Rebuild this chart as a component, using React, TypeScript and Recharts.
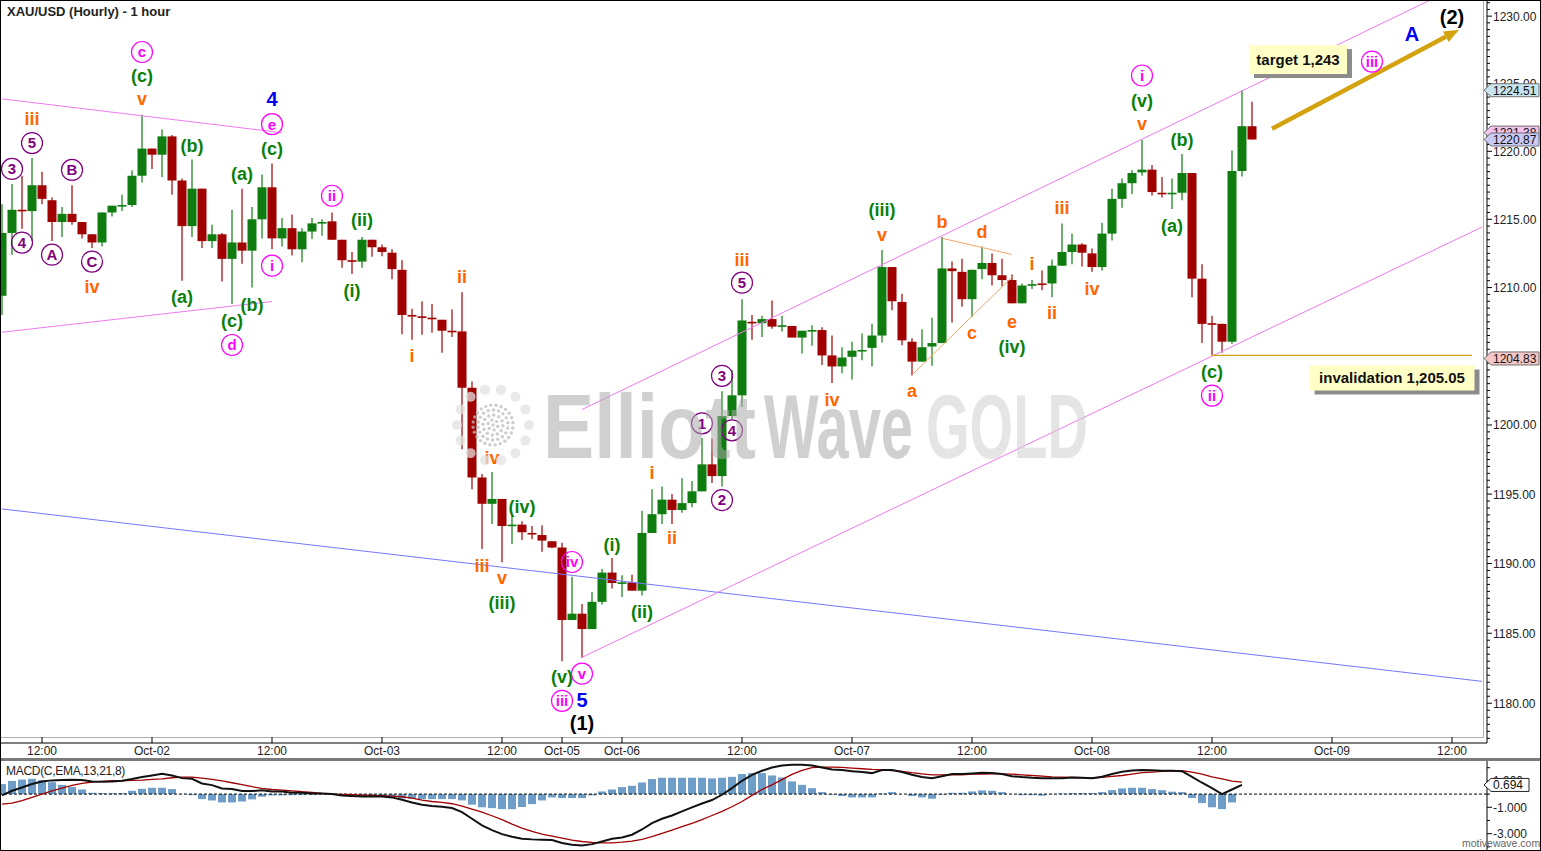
import React from "react";
import { ComposedChart, Bar, Line, XAxis, YAxis, ReferenceLine, ReferenceDot } from "recharts";

const FONT = "'Liberation Sans', Arial, Helvetica, sans-serif";
const UP = "#0e7c0e";
const DOWN = "#a00000";
const GOLD = "#d4a20f";
const SLOTS = 149;

// hourly candles, Oct 01 - Oct 08
const opens = [
  1209.4, 1214.0, 1215.7, 1215.6, 1217.5, 1216.4, 1214.8, 1215.4, 1214.8, 1213.9,
  1213.3, 1215.5, 1216.0, 1216.05, 1218.2, 1220.2, 1219.75, 1221.1, 1217.85, 1214.5,
  1217.25, 1213.4, 1213.9, 1212.1, 1213.3, 1212.7, 1215.0, 1217.35, 1213.6, 1214.35,
  1212.8, 1214.1, 1214.7, 1214.85, 1213.5, 1212.0, 1211.9, 1213.5, 1212.95, 1212.55,
  1211.3, 1208.0, 1207.9, 1207.8, 1207.65, 1206.85, 1206.8, 1202.7, 1196.2, 1194.3,
  1194.65, 1192.75, 1192.8, 1192.2, 1192.05, 1191.6, 1191.15, 1185.95, 1186.4, 1185.3,
  1187.25, 1189.35, 1188.6, 1188.65, 1188.05, 1192.2, 1193.55, 1194.6, 1193.85, 1194.35,
  1195.2, 1197.15, 1196.3, 1200.65, 1202.15, 1207.5, 1207.4, 1207.7, 1207.2, 1207.2,
  1206.35, 1206.85, 1206.9, 1205.05, 1204.25, 1204.95, 1205.4, 1205.6, 1206.5, 1211.5,
  1208.95, 1206.05, 1204.6, 1205.7, 1205.95, 1211.4, 1211.15, 1209.15, 1211.35, 1211.8,
  1210.9, 1210.55, 1208.85, 1210.2, 1210.3, 1210.3, 1211.6, 1212.6, 1213.15, 1212.5,
  1211.5, 1213.95, 1216.5, 1217.65, 1218.45, 1218.65, 1216.95, 1216.9, 1216.95, 1218.4,
  1210.65, 1207.4, 1207.35, 1206.05, 1218.55, 1221.85,
];
const highs = [
  1216.1, 1217.6, 1218.2, 1219.5, 1218.5, 1216.6, 1215.9, 1217.5, 1214.8, 1213.9,
  1215.5, 1216.0, 1216.8, 1218.6, 1222.7, 1220.2, 1221.6, 1221.2, 1218.0, 1219.4,
  1217.25, 1214.6, 1214.0, 1215.7, 1217.25, 1215.9, 1218.3, 1219.1, 1215.1, 1215.35,
  1214.35, 1215.1, 1215.0, 1215.5, 1213.5, 1212.6, 1213.7, 1213.5, 1213.15, 1212.8,
  1212.0, 1208.45, 1209.0, 1208.8, 1207.65, 1208.4, 1209.65, 1203.15, 1196.45, 1196.6,
  1194.65, 1193.45, 1193.05, 1192.7, 1192.75, 1191.6, 1191.5, 1189.05, 1187.1, 1187.95,
  1189.6, 1190.4, 1189.15, 1189.2, 1193.8, 1195.35, 1195.55, 1195.0, 1196.15, 1195.95,
  1199.05, 1199.0, 1202.45, 1204.0, 1209.15, 1208.0, 1207.95, 1209.05, 1207.95, 1207.2,
  1206.85, 1207.25, 1207.1, 1206.5, 1205.65, 1206.05, 1206.65, 1207.35, 1212.75, 1211.5,
  1209.55, 1206.3, 1206.95, 1207.8, 1213.7, 1211.9, 1212.1, 1211.3, 1213.0, 1212.5,
  1212.1, 1210.95, 1210.3, 1210.55, 1211.25, 1212.05, 1214.7, 1213.95, 1213.25, 1212.85,
  1214.75, 1217.25, 1218.0, 1218.6, 1220.85, 1219.0, 1218.1, 1218.0, 1219.8, 1218.4,
  1211.7, 1207.95, 1207.35, 1220.05, 1224.51, 1223.65,
];
const lows = [
  1208.0, 1212.4, 1214.3, 1213.4, 1216.1, 1213.4, 1213.7, 1214.6, 1213.6, 1212.9,
  1213.0, 1215.2, 1215.6, 1215.9, 1217.7, 1218.7, 1218.1, 1216.8, 1210.5, 1213.7,
  1212.9, 1212.9, 1210.45, 1208.8, 1211.75, 1210.0, 1213.6, 1212.8, 1213.0, 1212.35,
  1211.85, 1213.55, 1213.8, 1213.5, 1211.45, 1211.0, 1211.45, 1212.25, 1212.3, 1210.6,
  1206.6, 1206.2, 1206.55, 1206.7, 1205.25, 1206.4, 1198.25, 1195.35, 1191.05, 1192.85,
  1190.1, 1191.4, 1191.7, 1191.75, 1190.85, 1191.1, 1183.0, 1185.95, 1183.25, 1185.3,
  1187.05, 1188.2, 1187.6, 1188.05, 1187.7, 1192.2, 1192.85, 1192.85, 1193.65, 1194.05,
  1195.2, 1195.8, 1195.55, 1200.4, 1201.3, 1206.2, 1206.4, 1207.0, 1206.8, 1206.35,
  1205.2, 1205.75, 1204.35, 1203.05, 1203.75, 1203.3, 1204.7, 1204.25, 1206.0, 1208.35,
  1205.8, 1203.6, 1204.6, 1204.3, 1205.95, 1207.45, 1208.6, 1207.85, 1210.6, 1210.15,
  1210.1, 1208.85, 1208.85, 1209.9, 1209.8, 1209.3, 1211.6, 1211.7, 1211.55, 1211.15,
  1211.25, 1213.45, 1215.85, 1216.85, 1218.2, 1216.75, 1216.6, 1215.75, 1216.4, 1209.3,
  1205.95, 1205.05, 1205.25, 1205.9, 1218.15, 1220.87,
];
const closes = [
  1214.0, 1215.7, 1215.6, 1217.5, 1216.5, 1214.8, 1215.4, 1214.8, 1213.9, 1213.3,
  1215.5, 1216.0, 1216.05, 1218.2, 1220.2, 1219.75, 1221.1, 1217.85, 1214.5, 1217.25,
  1213.4, 1213.9, 1212.1, 1213.3, 1212.7, 1215.0, 1217.35, 1213.6, 1214.35, 1212.8,
  1214.1, 1214.7, 1214.8, 1213.5, 1212.0, 1211.95, 1213.5, 1212.95, 1212.6, 1211.35,
  1208.0, 1207.95, 1207.85, 1207.7, 1206.85, 1206.8, 1202.7, 1196.2, 1194.3, 1194.65,
  1192.7, 1192.8, 1192.25, 1192.15, 1191.65, 1191.15, 1185.95, 1186.4, 1185.3, 1187.25,
  1189.35, 1188.6, 1188.65, 1188.05, 1192.2, 1193.55, 1194.6, 1193.85, 1194.35, 1195.2,
  1197.15, 1196.3, 1200.65, 1202.15, 1207.6, 1207.45, 1207.7, 1207.15, 1207.25, 1206.35,
  1206.85, 1206.9, 1205.05, 1204.25, 1204.9, 1205.4, 1205.45, 1206.5, 1211.5, 1209.0,
  1206.15, 1204.6, 1205.65, 1205.95, 1211.4, 1211.2, 1209.15, 1211.3, 1211.8, 1210.9,
  1210.55, 1208.85, 1210.15, 1210.25, 1210.25, 1211.6, 1212.6, 1213.15, 1212.55, 1211.5,
  1213.95, 1216.5, 1217.65, 1218.4, 1218.65, 1217.0, 1216.9, 1216.95, 1218.4, 1210.65,
  1207.35, 1207.35, 1206.05, 1218.55, 1221.85, 1220.87,
];

// MACD(C,EMA,13,21,8)
const macdLine = [
  -0.1, 0.25, 0.5, 0.76, 0.96, 1.04, 1.06, 1.09, 1.06, 0.96,
  0.93, 0.96, 1.01, 1.14, 1.29, 1.41, 1.54, 1.41, 1.21, 1.16,
  0.81, 0.68, 0.43, 0.38, 0.23, 0.23, 0.3, 0.2, 0.2, 0.1,
  0.1, 0.05, 0.05, 0, -0.1, -0.15, -0.18, -0.18, -0.18, -0.25,
  -0.43, -0.63, -0.8, -0.91, -0.96, -1.06, -1.36, -1.87, -2.37, -2.73,
  -3.03, -3.23, -3.38, -3.43, -3.46, -3.48, -3.71, -3.84, -3.89, -3.79,
  -3.59, -3.38, -3.28, -3.08, -2.68, -2.2, -1.87, -1.62, -1.31, -1.01,
  -0.71, -0.45, -0.05, 0.45, 1.01, 1.46, 1.77, 2.02, 2.17, 2.22,
  2.22, 2.17, 2.02, 1.87, 1.82, 1.74, 1.67, 1.59, 1.82, 1.82,
  1.67, 1.46, 1.29, 1.21, 1.36, 1.52, 1.52, 1.57, 1.62, 1.6,
  1.52, 1.36, 1.29, 1.24, 1.21, 1.21, 1.21, 1.26, 1.24, 1.21,
  1.31, 1.52, 1.69, 1.79, 1.82, 1.8, 1.77, 1.77, 1.74, 1.31,
  0.86, 0.45, 0, 0.35, 0.694,
];
const signalLine = [
  -0.76, -0.68, -0.5, -0.25, 0, 0.25, 0.45, 0.66, 0.81, 0.91,
  0.96, 1.01, 1.01, 1.04, 1.06, 1.11, 1.16, 1.24, 1.29, 1.29,
  1.21, 1.11, 1.01, 0.86, 0.71, 0.56, 0.43, 0.35, 0.3, 0.25,
  0.18, 0.13, 0.05, 0, -0.02, -0.05, -0.07, -0.1, -0.12, -0.15,
  -0.2, -0.3, -0.45, -0.56, -0.63, -0.73, -0.91, -1.14, -1.36, -1.64,
  -1.94, -2.27, -2.58, -2.83, -3.03, -3.18, -3.33, -3.48, -3.59, -3.66,
  -3.69, -3.69, -3.64, -3.56, -3.43, -3.23, -2.98, -2.73, -2.47, -2.22,
  -1.94, -1.62, -1.31, -0.96, -0.56, -0.1, 0.35, 0.7, 1.1, 1.5,
  1.8, 2.0, 2.05, 2.05, 2.02, 1.97, 1.92, 1.87, 1.84, 1.79,
  1.72, 1.62, 1.54, 1.46, 1.46, 1.46, 1.46, 1.52, 1.52, 1.54,
  1.54, 1.52, 1.46, 1.41, 1.36, 1.31, 1.29, 1.26, 1.24, 1.21,
  1.26, 1.34, 1.41, 1.52, 1.62, 1.67, 1.72, 1.74, 1.77, 1.67,
  1.52, 1.31, 1.16, 0.98, 0.91,
];
const macdHist = [
  0.76, 1.0, 1.1, 1.16, 1.06, 0.9, 0.7, 0.53, 0.35, 0.1,
  0.08, 0.08, 0.08, 0.25, 0.4, 0.48, 0.48, 0.38, 0.02, -0.08,
  -0.38, -0.48, -0.63, -0.63, -0.56, -0.4, -0.2, -0.1, -0.1, -0.08,
  -0.08, -0.03, 0.02, 0.02, -0.1, -0.18, -0.18, -0.18, -0.18, -0.23,
  -0.33, -0.35, -0.38, -0.38, -0.38, -0.38, -0.48, -0.8, -1.0, -1.06,
  -1.14, -1.14, -0.98, -0.76, -0.48, -0.25, -0.3, -0.3, -0.3, -0.1,
  0.2, 0.35, 0.53, 0.63, 0.88, 1.14, 1.24, 1.24, 1.24, 1.24,
  1.24, 1.19, 1.24, 1.31, 1.52, 1.59, 1.59, 1.41, 1.26, 0.96,
  0.7, 0.45, 0.15, -0.05, -0.15, -0.25, -0.25, -0.25, 0.05, 0.15,
  0, -0.15, -0.25, -0.35, -0.05, 0.1, 0.1, 0.2, 0.28, 0.25,
  0.15, 0, -0.08, -0.08, -0.12, 0.02, 0.05, 0.08, 0.08, 0.08,
  0.15, 0.3, 0.43, 0.48, 0.48, 0.38, 0.3, 0.18, 0.15, -0.3,
  -0.68, -1.0, -1.14, -0.63,
];

// time axis: [slot, label]
const timeTicks: [number, string][] = [
  [4, "12:00"], [15, "Oct-02"], [27, "12:00"], [38, "Oct-03"], [50, "12:00"],
  [56, "Oct-05"], [62, "Oct-06"], [74, "12:00"], [85, "Oct-07"], [97, "12:00"],
  [109, "Oct-08"], [121, "12:00"], [133, "Oct-09"], [145, "12:00"],
];
const priceLabels = [1180, 1185, 1190, 1195, 1200, 1205, 1210, 1215, 1220, 1225, 1230];
const priceTags = [
  { value: 1221.38, fill: "#f3c4ec" },
  { value: 1220.87, fill: "#cacaf6" },
  { value: 1224.51, fill: "#c8e4ef" },
  { value: 1204.83, fill: "#f4c6c6" },
];
const macdLabels = [1, -1, -3];
const macdTag = 0.694;

// wave labels: [slot, price, text]
const orangeLabels: [number, number, string][] = [
  [14, 1223.86, "v"], [3, 1222.44, "iii"], [9, 1210.07, "iv"], [46, 1210.8, "ii"],
  [41, 1205.01, "i"], [49, 1197.67, "iv"], [48, 1189.89, "iii"], [50, 1189.03, "v"],
  [65, 1196.59, "i"], [67, 1191.84, "ii"], [74, 1212.04, "iii"], [83, 1201.84, "iv"],
  [88, 1213.87, "v"], [94, 1214.82, "b"], [91, 1202.49, "a"], [98, 1214.09, "d"],
  [97, 1206.7, "c"], [101, 1207.5, "e"], [103, 1211.75, "i"], [105, 1208.16, "ii"],
  [106, 1215.85, "iii"], [109, 1209.92, "iv"], [114, 1222.08, "v"],
];
const greenLabels: [number, number, string][] = [
  [14, 1225.56, "(c)"], [19, 1220.39, "(b)"], [24, 1218.34, "(a)"], [18, 1209.33, "(a)"],
  [23, 1207.57, "(c)"], [25, 1208.75, "(b)"], [27, 1220.24, "(c)"], [36, 1214.97, "(ii)"],
  [35, 1209.77, "(i)"], [52, 1194.07, "(iv)"], [50, 1187.23, "(iii)"], [61, 1191.4, "(i)"],
  [64, 1186.58, "(ii)"], [56, 1181.9, "(v)"], [88, 1215.7, "(iii)"], [101, 1205.67, "(iv)"],
  [114, 1223.77, "(v)"], [118, 1220.9, "(b)"], [117, 1214.53, "(a)"], [121, 1203.86, "(c)"],
];
const magentaLabels: [number, number, string][] = [
  [14, 1227.34, "c"], [23, 1205.81, "d"], [27, 1222.0, "e"], [27, 1211.6, "i"],
  [33, 1216.73, "ii"], [57, 1190.11, "iv"], [58, 1182.11, "v"], [56, 1180.17, "iii"],
  [114, 1225.6, "i"], [121, 1202.13, "ii"], [137, 1226.63, "iii"],
];
const purpleLabels: [number, number, string][] = [
  [3, 1220.61, "5"], [1, 1218.7, "3"], [2, 1213.29, "4"], [7, 1218.63, "B"],
  [5, 1212.41, "A"], [9, 1211.9, "C"], [70, 1200.12, "1"], [72, 1194.57, "2"],
  [72, 1203.57, "3"], [73, 1199.61, "4"], [74, 1210.36, "5"],
];
const blueLabels: [number, number, string][] = [
  [27, 1223.84, "4"], [58, 1180.24, "5"], [141, 1228.69, "A"],
];
const blackLabels: [number, number, string][] = [
  [58, 1178.58, "(1)"], [145, 1229.94, "(2)"],
];

// trend lines: [slot1, price1, slot2, price2, colour]
const trendLines: [number, number, number, number, string][] = [
  [0, 1223.87, 28, 1221.37, "#f07af0"],
  [0, 1206.74, 27, 1208.98, "#f07af0"],
  [0, 1193.93, 148, 1181.56, "#7777ff"],
  [58, 1201.12, 145, 1231.98, "#f07af0"],
  [58, 1183.28, 148, 1214.43, "#f07af0"],
  [94, 1213.61, 101, 1212.42, "#f5a66a"],
  [91, 1203.63, 101, 1210.77, "#f5a66a"],
  [121, 1205.05, 147, 1205.05, GOLD],
];
const targetArrow: [number, number, number, number] = [127, 1221.66, 145, 1228.71];

const priceData = Array.from({ length: SLOTS }, (_, k) =>
  k < opens.length
    ? { k, open: opens[k], high: highs[k], low: lows[k], close: closes[k], range: [lows[k], highs[k]] }
    : { k }
);
const macdData = Array.from({ length: SLOTS }, (_, k) => ({
  k,
  macd: macdLine[k] ?? null,
  signal: signalLine[k] ?? null,
  hist: macdHist[k] ?? null,
}));

const minorTicks: number[] = [];
for (let i = 0; i <= 107; i++) minorTicks.push(1177.5 + i * 0.5);
const yTicks = [...minorTicks, ...priceTags.map((t) => t.value)];

function Candle(props: any) {
  const { x, y, width, height, payload } = props;
  if (!payload || payload.high == null) return null;
  const top = Math.min(y, y + height);
  const bot = Math.max(y, y + height);
  const lh = Math.log(payload.high);
  const ll = Math.log(payload.low);
  const yOf = (p: number) => (lh === ll ? top : top + ((lh - Math.log(p)) / (lh - ll)) * (bot - top));
  const cx = x + width / 2;
  const color = payload.close >= payload.open ? UP : DOWN;
  const yo = yOf(payload.open);
  const yc = yOf(payload.close);
  const bt = Math.min(yo, yc);
  const bh = Math.max(1.6, Math.abs(yo - yc));
  return (
    <g>
      <line x1={cx} x2={cx} y1={top} y2={bot} stroke={color} strokeWidth={1.2} />
      <rect x={cx - 4.5} y={bt} width={9} height={bh} fill={color} />
    </g>
  );
}

function TimeTick(props: any) {
  const { x, y, payload } = props;
  const t = timeTicks.find((tt) => tt[0] === payload.value);
  if (!t) return <g />;
  return (
    <g>
      <line x1={x} x2={x} y1={y - 6} y2={y} stroke="#000" />
      <text x={x} y={y + 12} textAnchor="middle" fontSize={12} fill="#222" fontFamily={FONT}>
        {t[1]}
      </text>
    </g>
  );
}

function PriceTick(props: any) {
  const { x, y, payload } = props;
  const v = payload.value;
  const tag = priceTags.find((t) => Math.abs(t.value - v) < 1e-6);
  if (tag) {
    return (
      <g>
        <path
          d={`M${x - 3},${y} L${x + 4},${y - 6.5} L${x + 52},${y - 6.5} L${x + 52},${y + 6.5} L${x + 4},${y + 6.5} Z`}
          fill={tag.fill}
          stroke="#707070"
        />
        <text x={x + 6} y={y + 4.5} fontSize={12} fill="#111" fontFamily={FONT}>
          {v.toFixed(2)}
        </text>
      </g>
    );
  }
  const major = priceLabels.some((p) => Math.abs(p - v) < 1e-6);
  return (
    <g>
      <line x1={x} x2={x + (major ? 5 : 3)} y1={y} y2={y} stroke="#000" />
      {major && (
        <text x={x + 6} y={y + 4.5} fontSize={12} fill="#222" fontFamily={FONT}>
          {v.toFixed(2)}
        </text>
      )}
    </g>
  );
}

function MacdTick(props: any) {
  const { x, y, payload } = props;
  const v = payload.value;
  if (Math.abs(v - macdTag) < 1e-6) {
    return (
      <g>
        <path
          d={`M${x - 3},${y} L${x + 4},${y - 6.5} L${x + 42},${y - 6.5} L${x + 42},${y + 6.5} L${x + 4},${y + 6.5} Z`}
          fill="#fff"
          stroke="#222"
        />
        <text x={x + 6} y={y + 4.5} fontSize={12} fill="#111" fontFamily={FONT}>
          {v.toFixed(3)}
        </text>
      </g>
    );
  }
  const labeled = macdLabels.includes(v);
  return (
    <g>
      <line x1={x} x2={x + (labeled ? 5 : 3)} y1={y} y2={y} stroke="#000" />
      {labeled && (
        <text x={x + 6} y={y + 4.5} fontSize={12} fill="#222" fontFamily={FONT}>
          {v.toFixed(3)}
        </text>
      )}
    </g>
  );
}

function WaveLabel({ cx, cy, text, color, size, circle }: any) {
  return (
    <g>
      {circle && <circle cx={cx} cy={cy} r={10.5} fill="none" stroke={color} strokeWidth={1.2} />}
      <text
        x={cx}
        y={cy}
        dy="0.36em"
        textAnchor="middle"
        fontSize={size}
        fontWeight="bold"
        fill={color}
        fontFamily={FONT}
      >
        {text}
      </text>
    </g>
  );
}

function NoteBox({ cx, cy, w, h, text }: any) {
  return (
    <g>
      <rect x={cx - w / 2 + 5} y={cy - h / 2 + 4} width={w} height={h} fill="#8c8c8c" />
      <rect x={cx - w / 2} y={cy - h / 2} width={w} height={h} fill="#ffffc6" />
      <text x={cx} y={cy + 5} textAnchor="middle" fontSize={15} fontWeight="bold" fill="#111" fontFamily={FONT}>
        {text}
      </text>
    </g>
  );
}

function Arrow(props: any) {
  const { x1, y1, x2, y2 } = props;
  const a = Math.atan2(y2 - y1, x2 - x1);
  const tx = x2 + Math.cos(a) * 8;
  const ty = y2 + Math.sin(a) * 8;
  const bx = tx - Math.cos(a) * 15;
  const by = ty - Math.sin(a) * 15;
  const px = -Math.sin(a) * 6;
  const py = Math.cos(a) * 6;
  return (
    <g>
      <line x1={x1} y1={y1} x2={bx} y2={by} stroke={GOLD} strokeWidth={4.5} />
      <polygon points={`${tx},${ty} ${bx + px},${by + py} ${bx - px},${by - py}`} fill={GOLD} />
    </g>
  );
}

const labelGroups: { items: [number, number, string][]; color: string; size: number; circle: boolean }[] = [
  { items: orangeLabels, color: "#ff6600", size: 18, circle: false },
  { items: greenLabels, color: "#0a7f0a", size: 18, circle: false },
  { items: magentaLabels, color: "#ff00ff", size: 15, circle: true },
  { items: purpleLabels, color: "#800080", size: 15, circle: true },
  { items: blueLabels, color: "#0000ee", size: 20, circle: false },
  { items: blackLabels, color: "#000", size: 20, circle: false },
];

function Watermark() {
  const cx = 493;
  const cy = 425;
  const dots: React.ReactNode[] = [];
  const rings = [
    [0, 1],
    [5, 6],
    [10, 12],
    [15, 18],
    [20, 24],
  ];
  rings.forEach(([r, n], ri) => {
    for (let i = 0; i < n; i++) {
      const a = (i / n) * Math.PI * 2 + ri * 0.3;
      dots.push(<circle key={`d${ri}-${i}`} cx={cx + r * Math.cos(a)} cy={cy + r * Math.sin(a)} r={1.7} fill="#bdbdbd" />);
    }
  });
  for (let i = 0; i < 14; i++) {
    const a = (i / 14) * Math.PI * 2;
    dots.push(<circle key={`o${i}`} cx={cx + 36 * Math.cos(a)} cy={cy + 36 * Math.sin(a)} r={5} fill="#e2e2e2" />);
  }
  const wf = "'Liberation Sans Narrow', 'Liberation Sans', Arial, sans-serif";
  return (
    <svg width={1541} height={851} style={{ position: "absolute", left: 0, top: 0, pointerEvents: "none" }}>
      <g opacity={0.75}>{dots}</g>
      <text x={543} y={458} fontSize={91} fontWeight="bold" fontFamily={wf} textLength={213} lengthAdjust="spacingAndGlyphs" fill="#a9a9a9" fillOpacity={0.55}>
        Elliott
      </text>
      <text x={764} y={458} fontSize={91} fontWeight="bold" fontFamily={wf} textLength={149} lengthAdjust="spacingAndGlyphs" fill="#a9a9a9" fillOpacity={0.55}>
        Wave
      </text>
      <text x={926} y={458} fontSize={91} fontWeight="bold" fontFamily={wf} textLength={162} lengthAdjust="spacingAndGlyphs" fill="#d0d0d0" fillOpacity={0.55}>
        GOLD
      </text>
    </svg>
  );
}

export default function App() {
  return (
    <div
      style={{
        position: "absolute",
        left: 0,
        top: 0,
        width: 1541,
        height: 851,
        overflow: "hidden",
        background: "#fff",
        fontFamily: FONT,
      }}
    >
      <div style={{ position: "absolute", left: 0, top: 737, width: 1483, height: 1, background: "#b0b0b0" }} />
      <div style={{ position: "absolute", left: 1483, top: 0, width: 1, height: 738, background: "#b0b0b0" }} />

      <div style={{ position: "absolute", left: -3, top: 0 }}>
        <ComposedChart width={1544} height={758} data={priceData} margin={{ top: 0, right: 0, bottom: 0, left: 0 }}>
          <XAxis
            dataKey="k"
            type="category"
            interval={0}
            height={15}
            tickLine={false}
            tickSize={0}
            tickMargin={0}
            axisLine={{ stroke: "#000" }}
            tick={<TimeTick />}
          />
          <YAxis
            orientation="right"
            width={54}
            scale="log"
            type="number"
            domain={[1177.17, 1231.2]}
            allowDataOverflow
            ticks={yTicks}
            interval={0}
            tickLine={false}
            tickSize={0}
            tickMargin={0}
            axisLine={{ stroke: "#000" }}
            tick={<PriceTick />}
          />
          {trendLines.map(([k1, p1, k2, p2, color], i) => (
            <ReferenceLine
              key={`t${i}`}
              segment={[
                { x: k1, y: p1 },
                { x: k2, y: p2 },
              ]}
              stroke={color}
              strokeWidth={color === GOLD ? 1.3 : 1}
              ifOverflow="hidden"
            />
          ))}
          <Bar dataKey="range" shape={<Candle />} isAnimationActive={false} />
          <ReferenceLine
            segment={[
              { x: targetArrow[0], y: targetArrow[1] },
              { x: targetArrow[2], y: targetArrow[3] },
            ]}
            ifOverflow="visible"
            shape={(p: any) => <Arrow {...p} />}
          />
          {labelGroups.flatMap((g, gi) =>
            g.items.map(([k, p, text], i) => (
              <ReferenceDot
                key={`l${gi}-${i}`}
                x={k}
                y={p}
                r={0}
                ifOverflow="visible"
                shape={(sp: any) => (
                  <WaveLabel cx={sp.cx} cy={sp.cy} text={text} color={g.color} size={g.size} circle={g.circle} />
                )}
              />
            ))
          )}
          <ReferenceDot
            x={130}
            y={1226.78}
            r={0}
            ifOverflow="visible"
            shape={(sp: any) => <NoteBox cx={sp.cx - 4} cy={sp.cy} w={98} h={29} text="target 1,243" />}
          />
          <ReferenceDot
            x={139}
            y={1203.41}
            r={0}
            ifOverflow="visible"
            shape={(sp: any) => <NoteBox cx={sp.cx} cy={sp.cy} w={165} h={25} text="invalidation 1,205.05" />}
          />
        </ComposedChart>
      </div>

      <div style={{ position: "absolute", left: 0, top: 758, width: 1541, height: 3, background: "#7a7a7a" }} />

      <div style={{ position: "absolute", left: -3, top: 761 }}>
        <ComposedChart width={1544} height={89} data={macdData} margin={{ top: 0, right: 0, bottom: 0, left: 0 }}>
          <XAxis dataKey="k" type="category" hide />
          <YAxis
            orientation="right"
            width={54}
            type="number"
            domain={[-4.235, 2.508]}
            allowDataOverflow
            ticks={[2, 1, 0, -1, -2, -3, -4, macdTag]}
            interval={0}
            tickLine={false}
            tickSize={0}
            tickMargin={0}
            axisLine={{ stroke: "#000" }}
            tick={<MacdTick />}
          />
          <Bar dataKey="hist" fill="#6e9dc8" barSize={8} isAnimationActive={false} />
          <ReferenceLine y={0} stroke="#000" strokeDasharray="3 2" />
          <Line dataKey="signal" stroke="#a00000" strokeWidth={1.3} dot={false} isAnimationActive={false} />
          <Line dataKey="macd" stroke="#111" strokeWidth={2} dot={false} isAnimationActive={false} />
        </ComposedChart>
      </div>

      <Watermark />

      <div style={{ position: "absolute", left: 7, top: 4, fontSize: 13, fontWeight: "bold", color: "#222" }}>
        XAU/USD (Hourly) - 1 hour
      </div>
      <div style={{ position: "absolute", left: 6, top: 764, fontSize: 12, color: "#222", letterSpacing: -0.3 }}>
        MACD(C,EMA,13,21,8)
      </div>
      <div
        style={{
          position: "absolute",
          left: 1462,
          top: 838,
          fontSize: 10.5,
          lineHeight: "11px",
          color: "#666",
          whiteSpace: "nowrap",
        }}
      >
        motivewave.com
      </div>
      <div
        style={{
          position: "absolute",
          left: 0,
          top: 0,
          width: 1541,
          height: 851,
          boxSizing: "border-box",
          border: "1px solid #000",
          pointerEvents: "none",
        }}
      />
    </div>
  );
}
